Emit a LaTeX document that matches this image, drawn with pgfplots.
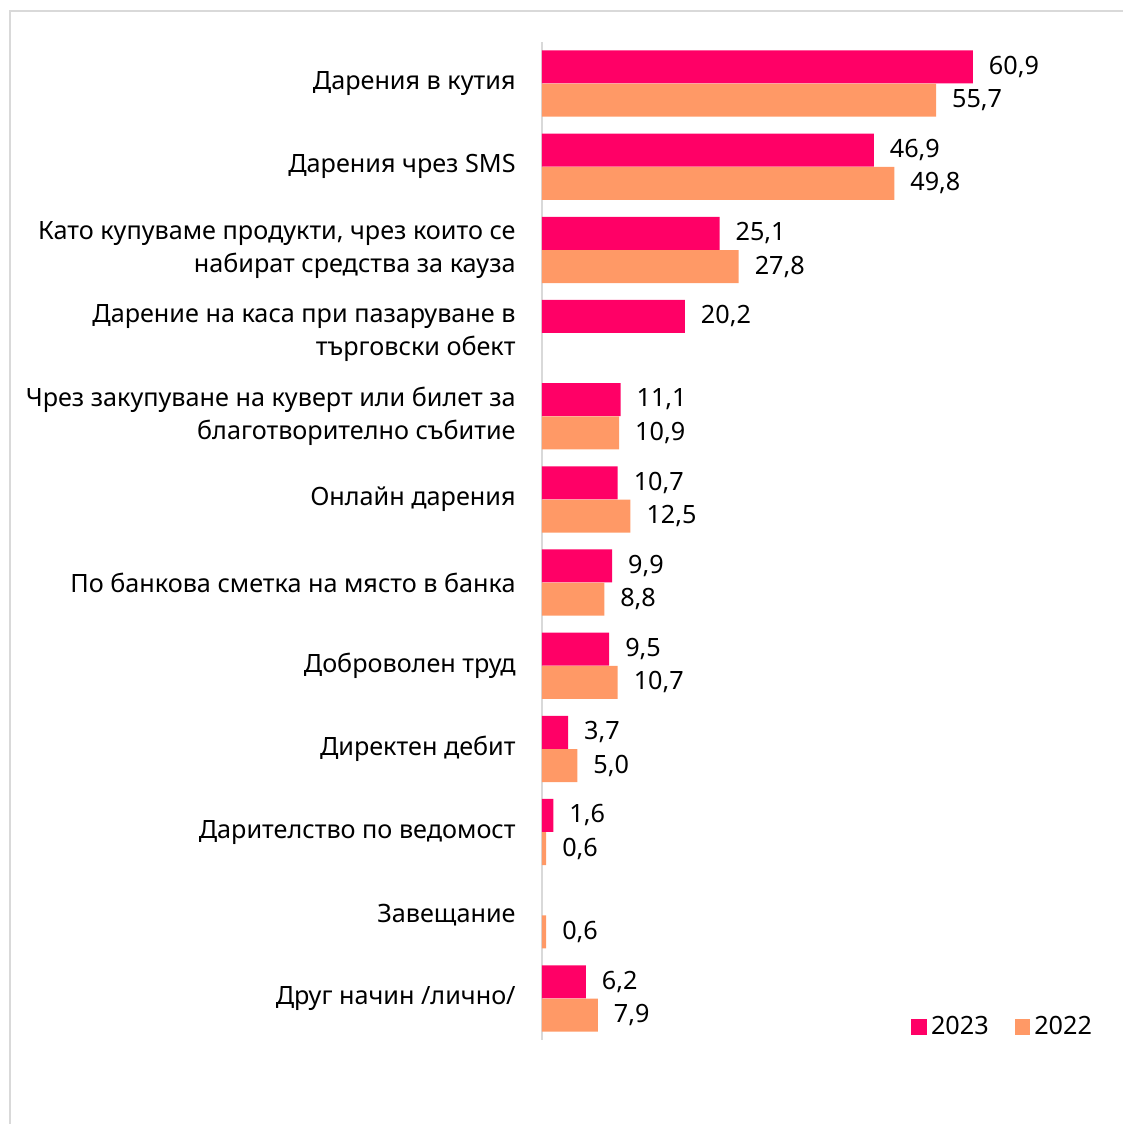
\documentclass[border=0pt]{standalone}
\usepackage{pgfplots}
\pgfplotsset{compat=1.18}
\usepackage{fontspec}
\setmainfont{Noto Sans}[Script=Cyrillic,Language=Bulgarian]
\definecolor{c23}{HTML}{FF0066}
\definecolor{c22}{HTML}{FF9966}
\begin{document}
\begin{tikzpicture}[x=1pt,y=1pt]
\path[use as bounding box] (0,0) rectangle (561.5,562);
\draw[black!15, line width=0.8pt] (5,0) -- (5,556.5) -- (561.5,556.5);
\begin{axis}[at={(271pt,42pt)}, anchor=south west, scale only axis,
  width=283pt, height=499pt,
  xmin=0, xmax=80, ymin=0.5, ymax=12.5, y dir=reverse,
  axis x line=none, axis y line*=left,
  y axis line style={black!15, line width=0.8pt, -},
  ytick={1,...,12}, major tick length=0pt,
  yticklabels={{Дарения в кутия},{Дарения чрез SMS},{Като купуваме продукти, чрез които се\\набират средства за кауза},{Дарение на каса при пазаруване в\\търговски обект},{Чрез закупуване на куверт или билет за\\благотворително събитие},{Онлайн дарения},{По банкова сметка на място в банка},{Доброволен труд},{Директен дебит},{Дарителство по ведомост},{Завещание},{Друг начин /лично/}},
  yticklabel style={align=right, font=\fontsize{12.6}{16.5}\selectfont, inner sep=0pt, xshift=-13pt},
  xbar, bar width=16.5pt, bar shift=0pt, clip=false,
  point meta=x,
  nodes near coords,
  nodes near coords style={anchor=west, xshift=4.5pt, font=\fontsize{12.6}{14}\selectfont},
  legend style={at={(0.99,0.013)}, anchor=east, draw=none, fill=none,
    legend columns=2, font=\fontsize{12.6}{14}\selectfont,
    /tikz/every even column/.append style={column sep=11pt}},
  legend image code/.code={\fill[#1] (0pt,-3.9pt) rectangle (7.8pt,3.9pt);},
  /pgf/number format/use comma,
  /pgf/number format/fixed,
  /pgf/number format/fixed zerofill,
  /pgf/number format/precision=1,
  /pgf/number format/assume math mode=true,
]
\addplot[fill=c23, draw=none] coordinates {(60.9,0.8) (46.9,1.8) (25.1,2.8) (20.2,3.8) (11.1,4.8) (10.7,5.8) (9.9,6.8) (9.5,7.8) (3.7,8.8) (1.6,9.8) (6.2,11.8)};
\addlegendentry{2023}
\addplot[fill=c22, draw=none] coordinates {(55.7,1.2) (49.8,2.2) (27.8,3.2) (10.9,5.2) (12.5,6.2) (8.8,7.2) (10.7,8.2) (5.0,9.2) (0.6,10.2) (0.6,11.2) (7.9,12.2)};
\addlegendentry{2022}
\end{axis}
\end{tikzpicture}
\end{document}
